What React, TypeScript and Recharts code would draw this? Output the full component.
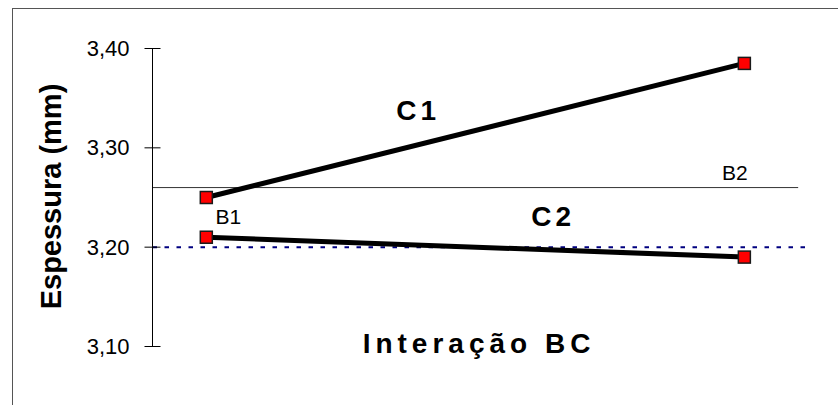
import React from 'react';
import { LineChart, Line, XAxis, YAxis, ReferenceLine, ReferenceDot } from 'recharts';

const categories = ['B1', 'B2'];
const xPositions = [1, 2];
const c1Values = [3.25, 3.385];
const c2Values = [3.21, 3.19];
const seriesNames = ['C1', 'C2'];
const yTicks = [3.1, 3.2, 3.3, 3.4];
const axisCrossing = 3.26;
const referenceLevel = 3.2;

const data = categories.map((name, i) => ({ name, x: xPositions[i], c1: c1Values[i], c2: c2Values[i] }));

const FONT = '"Liberation Sans", Arial, sans-serif';
const TICK_MARGIN = 23;

const YTick = (props: any) => {
  const { x, y, payload } = props;
  const ax = x + TICK_MARGIN;
  return (
    <g>
      <line x1={ax - 8} x2={ax + 8} y1={y} y2={y} stroke="#000" strokeWidth={1} />
      <text x={x} y={y} textAnchor="end" dominantBaseline="central" fontSize={22} fontFamily={FONT} fill="#000">
        {Number(payload.value).toFixed(2).replace('.', ',')}
      </text>
    </g>
  );
};

const SquareDot = (props: any) => {
  const { cx, cy, index, dataKey } = props;
  return (
    <rect key={`${dataKey}-${index}`} x={cx - 6} y={cy - 6} width={12} height={12} fill="#ff0000" stroke="#1a1a1a" strokeWidth={1.5} />
  );
};

const textShape = (label: string, size: number, bold: boolean, spacing: number, dx: number, dy: number, baseline: string) => (p: any) => (
  <text
    x={p.cx + dx}
    y={p.cy + dy}
    textAnchor="middle"
    dominantBaseline={baseline}
    fontSize={size}
    fontWeight={bold ? 'bold' : 'normal'}
    letterSpacing={spacing}
    fontFamily={FONT}
    fill="#000"
  >
    {label}
  </text>
);

export default function App() {
  return (
    <div style={{ position: 'absolute', left: 0, top: 0, width: 838, height: 405, overflow: 'hidden', background: '#fff' }}>
      <div style={{ position: 'absolute', left: 12, top: 8, width: 1000, height: 1000, borderLeft: '1px solid #555', borderTop: '1px solid #555' }} />
      <div style={{ position: 'absolute', left: 0, top: 0 }}>
        <LineChart width={838} height={405} data={data} margin={{ top: 48.5, right: 28, bottom: 0, left: 0.5 }}>
          <XAxis
            type="number"
            dataKey="x"
            domain={[0.9, 2.122]}
            allowDataOverflow
            tick={false}
            axisLine={false}
            tickLine={false}
            height={58.5}
            label={() => (
              <text x={479} y={353} textAnchor="middle" fontSize={28} fontWeight="bold" letterSpacing={5} fontFamily={FONT} fill="#000">
                Interação BC
              </text>
            )}
          />
          <YAxis
            type="number"
            domain={[3.1, 3.4]}
            ticks={yTicks}
            width={152}
            tickSize={0}
            tickMargin={TICK_MARGIN}
            tickLine={false}
            axisLine={{ stroke: '#000', strokeWidth: 1 }}
            tick={<YTick />}
            interval={0}
            label={() => (
              <text
                x={51}
                y={196.5}
                transform="rotate(-90, 51, 196.5)"
                textAnchor="middle"
                dominantBaseline="central"
                fontSize={29}
                fontWeight="bold"
                fontFamily={FONT}
                fill="#000"
              >
                Espessura (mm)
              </text>
            )}
          />
          <ReferenceLine y={referenceLevel} stroke="#000080" strokeWidth={2} strokeDasharray="4.5 7.5" />
          <ReferenceLine
            segment={[{ x: 0.9, y: axisCrossing }, { x: 2.1, y: axisCrossing }]}
            stroke="#333"
            strokeWidth={1}
          />
          <ReferenceDot x={xPositions[0]} y={axisCrossing} r={0} ifOverflow="visible" shape={textShape(categories[0], 21, false, 0, 22, 36.4, 'auto')} />
          <ReferenceDot x={xPositions[1]} y={axisCrossing} r={0} ifOverflow="visible" shape={textShape(categories[1], 21, false, 0, -9.5, -7.6, 'auto')} />
          <Line type="linear" dataKey="c1" name={seriesNames[0]} stroke="#000" strokeWidth={5} dot={SquareDot} activeDot={false} isAnimationActive={false} />
          <Line type="linear" dataKey="c2" name={seriesNames[1]} stroke="#000" strokeWidth={5} dot={SquareDot} activeDot={false} isAnimationActive={false} />
          <ReferenceDot x={1.39} y={3.338} r={0} ifOverflow="visible" shape={textShape(seriesNames[0], 28, true, 4, 2, 0, 'central')} />
          <ReferenceDot x={1.641} y={3.2304} r={0} ifOverflow="visible" shape={textShape(seriesNames[1], 28, true, 4, 2, 0, 'central')} />
        </LineChart>
      </div>
    </div>
  );
}
